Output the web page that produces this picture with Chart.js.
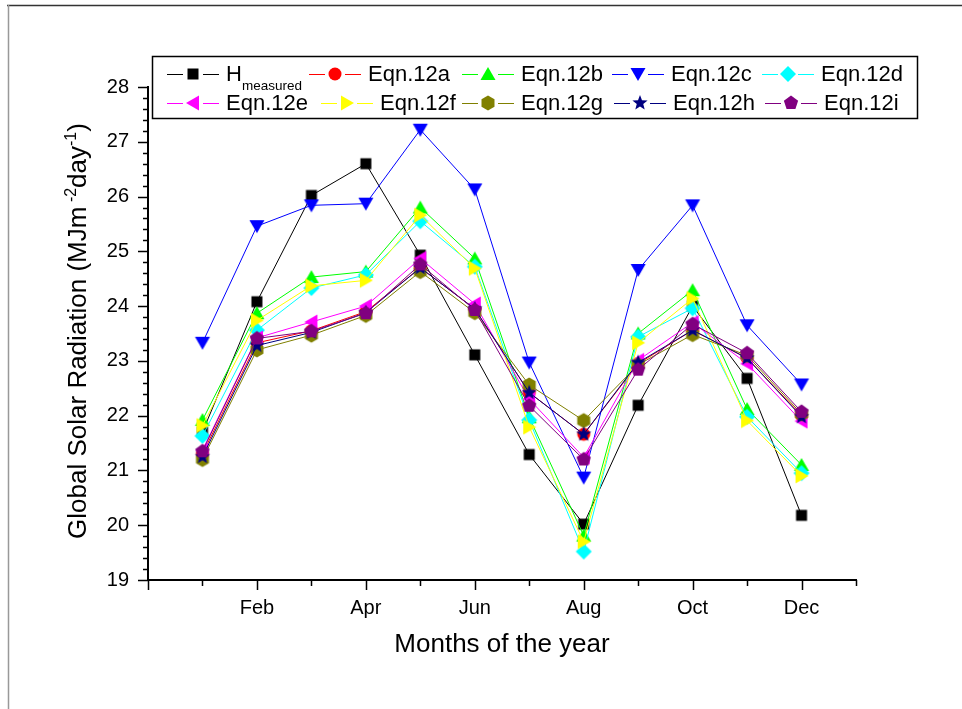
<!DOCTYPE html>
<html>
<head>
<meta charset="utf-8">
<script src="https://cdn.jsdelivr.net/npm/chart.js@4/dist/chart.umd.min.js"></script>
<style>
  html, body { margin:0; padding:0; background:#fff; }
  #wrap { position:relative; width:962px; height:709px; }
</style>
</head>
<body>
<div id="wrap"><canvas id="chart" width="962" height="709"></canvas></div>
<script>
// months of the year (x positions), Jan = 1 ... Dec = 12
const months = [1,2,3,4,5,6,7,8,9,10,11,12];
const monthTicks = {2:'Feb', 4:'Apr', 6:'Jun', 8:'Aug', 10:'Oct', 12:'Dec'};

// global solar radiation, MJ m-2 day-1
const hMeasured = [21.70, 24.08, 26.02, 26.60, 24.93, 23.11, 21.29, 20.02, 22.19, 24.00, 22.68, 20.18];
const eqn12a    = [21.30, 23.33, 23.55, 23.90, 24.70, 23.95, 22.42, 21.66, 22.95, 23.56, 23.05, 22.00];
const eqn12b    = [21.92, 23.87, 24.53, 24.63, 25.80, 24.87, 21.97, 19.81, 23.50, 24.29, 22.12, 21.10];
const eqn12c    = [23.33, 25.46, 25.84, 25.87, 27.22, 26.13, 22.97, 20.87, 24.66, 25.84, 23.65, 22.57];
const eqn12d    = [21.63, 23.56, 24.33, 24.57, 25.55, 24.72, 21.92, 19.52, 23.44, 23.96, 21.98, 20.95];
const eqn12e    = [21.37, 23.42, 23.71, 24.00, 24.87, 24.04, 22.30, 21.24, 23.01, 23.70, 22.95, 21.90];
const eqn12f    = [21.82, 23.74, 24.37, 24.47, 25.66, 24.69, 21.79, 19.70, 23.33, 24.14, 21.91, 20.90];
const eqn12g    = [21.20, 23.20, 23.47, 23.83, 24.63, 23.88, 22.56, 21.91, 22.93, 23.48, 23.10, 22.03];
const eqn12h    = [21.25, 23.28, 23.52, 23.88, 24.70, 23.95, 22.42, 21.66, 22.97, 23.56, 23.05, 21.98];
const eqn12i    = [21.35, 23.41, 23.54, 23.87, 24.76, 23.93, 22.18, 21.20, 22.84, 23.67, 23.14, 22.07];

const seriesLabels = ['H', 'Eqn.12a', 'Eqn.12b', 'Eqn.12c', 'Eqn.12d', 'Eqn.12e', 'Eqn.12f', 'Eqn.12g', 'Eqn.12h', 'Eqn.12i'];
const seriesValues = [hMeasured, eqn12a, eqn12b, eqn12c, eqn12d, eqn12e, eqn12f, eqn12g, eqn12h, eqn12i];

// styles
const colors = ['#000000','#ff0000','#00ff00','#0000ff','#00ffff','#ff00ff','#ffff00','#808000','#000080','#800080'];
const shapes = ['square','circle','up','down','diamond','left','right','hexagon','star','pentagon'];
const FONT = '"Liberation Sans", Arial, sans-serif';

function polygon(g, n, r, start){
  for(let k=0;k<n;k++){
    const a = start + k*2*Math.PI/n;
    const px = r*Math.cos(a), py = r*Math.sin(a);
    k ? g.lineTo(px,py) : g.moveTo(px,py);
  }
  g.closePath();
}

function makeMarker(shape, color){
  const c = document.createElement('canvas');
  c.width = 20; c.height = 20;
  const g = c.getContext('2d');
  g.fillStyle = color;
  g.translate(10,10);
  g.beginPath();
  switch(shape){
    case 'square': g.rect(-5.5,-5.5,11,11); break;
    case 'circle': g.arc(0,0,6.5,0,Math.PI*2); break;
    case 'up': g.moveTo(0,-7); g.lineTo(7.5,6); g.lineTo(-7.5,6); g.closePath(); break;
    case 'down': g.moveTo(0,7); g.lineTo(7.5,-6); g.lineTo(-7.5,-6); g.closePath(); break;
    case 'left': g.moveTo(-7,0); g.lineTo(6,-7.5); g.lineTo(6,7.5); g.closePath(); break;
    case 'right': g.moveTo(7,0); g.lineTo(-6,-7.5); g.lineTo(-6,7.5); g.closePath(); break;
    case 'diamond': g.moveTo(0,-8); g.lineTo(8,0); g.lineTo(0,8); g.lineTo(-8,0); g.closePath(); break;
    case 'hexagon': polygon(g,6,7.5,-Math.PI/2); break;
    case 'pentagon': polygon(g,5,7.5,-Math.PI/2); break;
    case 'star':
      for(let k=0;k<10;k++){
        const r = k%2 ? 3.4 : 8;
        const a = -Math.PI/2 + k*Math.PI/5;
        k ? g.lineTo(r*Math.cos(a), r*Math.sin(a)) : g.moveTo(r*Math.cos(a), r*Math.sin(a));
      }
      g.closePath(); break;
  }
  g.fill();
  return c;
}
const markers = shapes.map((s,i)=>makeMarker(s, colors[i]));

function drawRich(ctx, parts, x, y){
  // parts: [text, size, raise]
  let total = 0;
  parts.forEach(p=>{ ctx.font = p[1]+'px '+FONT; total += ctx.measureText(p[0]).width; });
  let cx = x - total/2;
  parts.forEach(p=>{
    ctx.font = p[1]+'px '+FONT;
    ctx.fillText(p[0], cx, y - p[2]);
    cx += ctx.measureText(p[0]).width;
  });
}

const framePlugin = {
  id:'frame',
  beforeDraw(chart){
    const c = chart.ctx;
    c.save();
    c.fillStyle = '#fff';
    c.fillRect(0,0,chart.width,chart.height);
    c.lineWidth = 1.5;
    c.strokeStyle = '#333';
    c.beginPath(); c.moveTo(7,5.5); c.lineTo(chart.width,5.5); c.stroke();
    c.strokeStyle = '#999';
    c.beginPath(); c.moveTo(8.5,5); c.lineTo(8.5,chart.height); c.stroke();
    c.restore();
  }
};

const tickPlugin = {
  id:'axisTicks',
  afterDraw(chart){
    const c = chart.ctx, x = chart.scales.x, y = chart.scales.y;
    c.save();
    c.strokeStyle = '#000';
    c.lineWidth = 1.5;
    c.beginPath();
    for(let v=0; v<=13; v++){
      const px = Math.round(x.getPixelForValue(v)) + 0.5;
      const len = v%2===0 ? 10 : 6;
      c.moveTo(px, y.bottom); c.lineTo(px, y.bottom+len);
    }
    for(let k=0; k<=45; k++){
      const py = Math.round(y.getPixelForValue(19 + k*0.2)) + 0.5;
      const len = k%5===0 ? 10 : 5;
      c.moveTo(x.left-len, py); c.lineTo(x.left, py);
    }
    c.stroke();

    // axis titles
    c.fillStyle = '#000';
    c.textAlign = 'left';
    c.textBaseline = 'alphabetic';
    drawRich(c, [['Months of the year',26,0]], (x.left+x.right)/2, 652);
    c.save();
    c.translate(86, 331);
    c.rotate(-Math.PI/2);
    drawRich(c, [['Global Solar Radiation (MJm',26,0],[' -2',16,10],['day',26,0],['-1',16,10],[')',26,0]], 0, 0);
    c.restore();

    // legend
    c.fillStyle = '#fff';
    c.fillRect(152,56,766,63);
    c.lineWidth = 1.5;
    c.strokeStyle = '#000';
    c.strokeRect(152.5,56.5,765,62);
    const mx = [193,335,488,638,788, 193,347,488,640,791];
    const my = [74,103];
    const ty = [81,110];
    seriesLabels.forEach((lab,i)=>{
      const row = i<5 ? 0 : 1;
      const m = mx[i];
      c.strokeStyle = colors[i];
      c.lineWidth = 1;
      c.beginPath();
      c.moveTo(m-26, my[row]+0.5); c.lineTo(m-10, my[row]+0.5);
      c.moveTo(m+10, my[row]+0.5); c.lineTo(m+26, my[row]+0.5);
      c.stroke();
      c.drawImage(markers[i], m-10, my[row]-10);
      c.fillStyle = '#000';
      c.font = '22px '+FONT;
      c.fillText(lab, m+33, ty[row]);
      if(i===0){
        const w = c.measureText(lab).width;
        c.font = '13.5px '+FONT;
        c.fillText('measured', m+33+w, ty[row]+9);
      }
    });
    c.restore();
  }
};

const datasets = seriesValues.map((vals,i)=>({
  label: seriesLabels[i],
  data: months.map((m,j)=>({x:m, y:vals[j]})),
  borderColor: colors[i],
  backgroundColor: colors[i],
  borderWidth: 1,
  pointStyle: markers[i],
  pointRadius: 7,
  pointHoverRadius: 7,
  tension: 0,
  order: seriesValues.length - i
}));

new Chart(document.getElementById('chart').getContext('2d'), {
  type:'line',
  data:{ datasets },
  options:{
    responsive:false,
    devicePixelRatio:1,
    animation:false,
    layout:{ padding:{ left:0, top:87, right:106, bottom:0 } },
    plugins:{ legend:{display:false}, tooltip:{enabled:false} },
    scales:{
      x:{
        type:'linear', min:0, max:13,
        afterFit: s => { s.height = 129; },
        grid:{ display:false, drawTicks:false },
        border:{ display:true, color:'#000', width:2 },
        ticks:{ stepSize:1, autoSkip:false, maxRotation:0, padding:16, color:'#000',
                font:{ family:FONT, size:20 }, callback: v => monthTicks[v] || '' }
      },
      y:{
        min:19, max:28,
        afterFit: s => { s.width = 148; },
        grid:{ display:false, drawTicks:false },
        border:{ display:true, color:'#000', width:2 },
        ticks:{ stepSize:1, padding:19, color:'#000', font:{ family:FONT, size:20 } }
      }
    }
  },
  plugins:[framePlugin, tickPlugin]
});
</script>
</body>
</html>
